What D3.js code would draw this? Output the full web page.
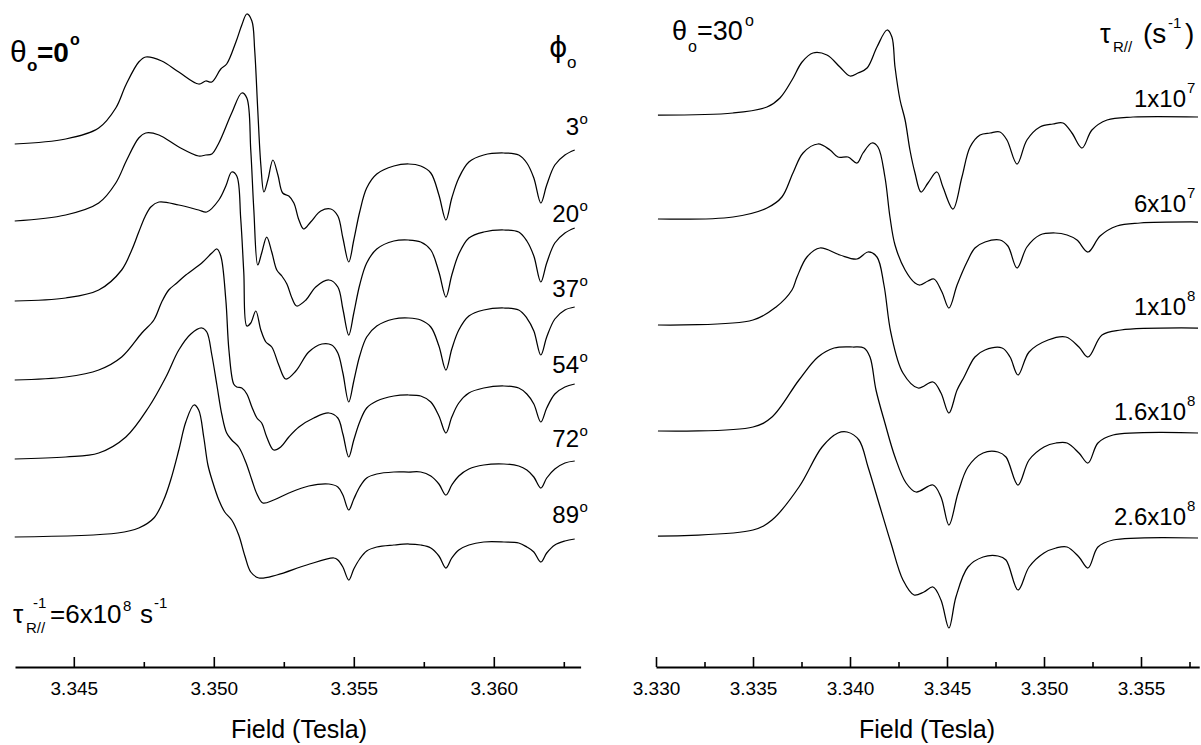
<!DOCTYPE html>
<html lang="en">
<head>
  <meta charset="UTF-8">
  <title>EPR spectra vs orientation and rotation rate</title>
  <script src="https://d3js.org/d3.v7.min.js"></script>
  <style>
    body { margin: 0; background: #fff; }
    svg { font-family: "Liberation Sans", Arial, Helvetica, sans-serif; fill: #000; }
    .trace { fill: none; stroke: #000; stroke-width: 1.25; stroke-linejoin: round; }
    .axis path.domain { stroke: #000; stroke-width: 2; }
    .axis line { stroke: #000; stroke-width: 1.6; }
    .axis text { font-size: 19px; font-family: "Liberation Sans", Arial, sans-serif; fill: #000; }
    .axis-title { font-size: 25px; text-anchor: middle; }
  </style>
</head>
<body>
  <div id="chart"></div>

  <script>
    // ---------- left panel: theta0 = 0 deg, six phi0 values ----------
    const leftLabels = ["3", "20", "37", "54", "72", "89"];
    const leftOffsets = [523, 446, 366, 287, 208, 130];   // stacking offset of each trace (a.u.)

    // high-field part shares one field grid
    const tailField = [3.35443, 3.35461, 3.35482, 3.35500, 3.35521, 3.35546, 3.35582, 3.35643, 3.35696,
      3.35739, 3.35775, 3.35804, 3.35829, 3.35850, 3.35875, 3.35911, 3.35964, 3.36036, 3.36089, 3.36118,
      3.36143, 3.36168, 3.36189, 3.36218, 3.36254, 3.36289];

    const phi3Field = [3.34289, 3.34471, 3.34589, 3.34650, 3.34686, 3.34732, 3.34757, 3.34814, 3.34875, 3.34946,
      3.34971, 3.34993, 3.35025, 3.35046, 3.35079, 3.35100, 3.35118, 3.35136, 3.35146, 3.35157,
      3.35168, 3.35179, 3.35193, 3.35211, 3.35229, 3.35246, 3.35268, 3.35286, 3.35304, 3.35321,
      3.35346, 3.35382, 3.35418];
    const phi3Head = [0, 5, 16, 36, 59, 82, 87, 83, 72, 60, 63, 62, 75, 80, 102, 119, 130, 123, 94, 34,
      -21, -48, -36, -16, -31, -49, -52, -59, -76, -85, -78, -67, -65];
    const phi3Tail = [-72, -94, -118, -96, -68, -44, -30, -22, -20, -22, -29, -51, -76, -54, -34, -18, -11, -9,
      -11, -19, -34, -59, -41, -21, -11, -6];

    const phi20Field = [3.34289, 3.34471, 3.34589, 3.34650, 3.34689, 3.34732, 3.34757, 3.34804, 3.34875, 3.34946,
      3.34971, 3.34993, 3.35018, 3.35064, 3.35100, 3.35118, 3.35132, 3.35143, 3.35157, 3.35171,
      3.35189, 3.35207, 3.35225, 3.35243, 3.35261, 3.35279, 3.35296, 3.35329, 3.35364, 3.35411];
    const phi20Head = [0, 6, 18, 38, 61, 83, 88, 86, 74, 65, 66, 67, 78, 108, 128, 123, 71, 11, -44, -32,
      -16, -31, -49, -55, -63, -77, -85, -79, -66, -59];
    const phi20Tail = [-66, -88, -114, -92, -64, -42, -28, -20, -19, -21, -29, -51, -76, -54, -33, -17, -11, -9,
      -11, -20, -35, -61, -42, -22, -12, -7];

    const phi37Field = [3.34289, 3.34471, 3.34589, 3.34671, 3.34707, 3.34732, 3.34754, 3.34775, 3.34804, 3.34875,
      3.34946, 3.34975, 3.35018, 3.35043, 3.35064, 3.35082, 3.35096, 3.35107, 3.35118, 3.35132,
      3.35150, 3.35168, 3.35186, 3.35207, 3.35232, 3.35257, 3.35293, 3.35339, 3.35386, 3.35421];
    const phi37Head = [0, 3, 11, 31, 51, 69, 84, 94, 99, 96, 91, 89, 101, 115, 129, 125, 83, 29, -25, -22,
      -10, -29, -41, -46, -64, -78, -70, -51, -43, -44];
    const phi37Tail = [-52, -72, -101, -80, -55, -36, -25, -18, -17, -19, -26, -45, -69, -48, -29, -15, -9, -7,
      -9, -17, -30, -54, -36, -18, -9, -6];

    const phi54Field = [3.34289, 3.34471, 3.34589, 3.34671, 3.34743, 3.34786, 3.34814, 3.34839, 3.34868, 3.34900,
      3.34957, 3.34993, 3.35011, 3.35025, 3.35043, 3.35054, 3.35071, 3.35082, 3.35100, 3.35118,
      3.35136, 3.35154, 3.35171, 3.35189, 3.35214, 3.35239, 3.35268, 3.35304, 3.35357, 3.35411];
    const phi54Head = [0, 3, 10, 23, 47, 60, 78, 90, 97, 105, 117, 127, 131, 124, 80, 30, -4, -7, -8, -14,
      -27, -38, -43, -57, -70, -67, -57, -47, -38, -33];
    const phi54Tail = [-38, -54, -77, -60, -42, -28, -21, -16, -15, -16, -22, -36, -53, -37, -23, -13, -8, -6,
      -8, -14, -24, -42, -28, -14, -7, -4];

    const phi72Field = [3.34289, 3.34471, 3.34589, 3.34686, 3.34768, 3.34829, 3.34875, 3.34918, 3.34957, 3.34975,
      3.34993, 3.35011, 3.35029, 3.35046, 3.35064, 3.35089, 3.35114, 3.35136, 3.35154, 3.35175,
      3.35214, 3.35268, 3.35339, 3.35411];
    const phi72Head = [0, 2, 6, 22, 52, 82, 109, 125, 131, 127, 104, 74, 44, 26, 19, 12, -3, -21, -35, -44,
      -41, -34, -27, -25];
    const phi72Tail = [-28, -36, -51, -40, -28, -19, -15, -13, -13, -13, -17, -25, -36, -26, -17, -10, -6, -5,
      -7, -11, -18, -29, -19, -10, -4, -2];

    const phi89Field = [3.34289, 3.34657, 3.34732, 3.34786, 3.34821, 3.34846, 3.34875, 3.34900, 3.34929, 3.34946,
      3.34964, 3.34979, 3.34996, 3.35018, 3.35039, 3.35064, 3.35089, 3.35111, 3.35132, 3.35161,
      3.35225, 3.35332, 3.35429];
    const phi89Head = [0, 4, 9, 19, 37, 57, 87, 115, 132, 127, 100, 72, 55, 37, 25, 17, 2, -19, -35, -41,
      -38, -28, -21];
    const phi89Tail = [-23, -30, -43, -32, -22, -14, -10, -8, -7, -8, -11, -19, -31, -21, -13, -8, -5, -5,
      -6, -10, -15, -25, -16, -8, -4, -2];

    const leftMajorTicks = [3.345, 3.350, 3.355, 3.360];
    const leftMinorTicks = [3.3475, 3.3525, 3.3575, 3.3625];

    // ---------- right panel: theta0 = 30 deg, five rotation rates ----------
    const rightLabels = ["1x10", "6x10", "1x10", "1.6x10", "2.6x10"];
    const rightExponents = ["7", "7", "8", "8", "8"];
    const rightOffsets = [552, 448, 342, 236, 131];

    const rate1Field = [3.33010, 3.33397, 3.33572, 3.33639, 3.33701, 3.33753, 3.33809, 3.33881, 3.33948, 3.34000,
      3.34041, 3.34088, 3.34139, 3.34191, 3.34216, 3.34232, 3.34258, 3.34284, 3.34309, 3.34335,
      3.34366, 3.34402, 3.34448, 3.34479, 3.34531, 3.34577, 3.34619, 3.34670, 3.34722, 3.34773,
      3.34809, 3.34861, 3.34912, 3.34979, 3.35046, 3.35098, 3.35144, 3.35196, 3.35247, 3.35325,
      3.35459, 3.35794];
    const rate1Value = [0, 2, 8, 17, 35, 53, 62, 60, 48, 39, 42, 47, 68, 85, 78, 48, 15, -5, -35, -58,
      -77, -68, -57, -72, -94, -62, -32, -20, -18, -17, -25, -49, -25, -12, -9, -8, -18, -33, -15, -5,
      -2, -2];

    const rate2Field = [3.33010, 3.33397, 3.33572, 3.33649, 3.33706, 3.33758, 3.33835, 3.33897, 3.33938, 3.33990,
      3.34036, 3.34067, 3.34113, 3.34144, 3.34180, 3.34206, 3.34232, 3.34284, 3.34335, 3.34361,
      3.34402, 3.34433, 3.34474, 3.34510, 3.34552, 3.34603, 3.34644, 3.34696, 3.34773, 3.34814,
      3.34861, 3.34912, 3.34979, 3.35057, 3.35119, 3.35170, 3.35227, 3.35289, 3.35376, 3.35495,
      3.35794];
    const rate2Value = [0, 2, 11, 22, 46, 66, 75, 69, 62, 62, 56, 66, 76, 72, 42, 2, -26, -51, -64, -66,
      -62, -60, -73, -89, -66, -43, -29, -23, -21, -27, -49, -28, -16, -14, -16, -21, -33, -17, -7, -4,
      -3];

    const rate3Field = [3.33010, 3.33500, 3.33619, 3.33701, 3.33727, 3.33778, 3.33845, 3.33948, 3.34036, 3.34093,
      3.34139, 3.34175, 3.34211, 3.34273, 3.34351, 3.34428, 3.34469, 3.34510, 3.34552, 3.34588,
      3.34644, 3.34696, 3.34784, 3.34825, 3.34866, 3.34923, 3.35021, 3.35113, 3.35180, 3.35227,
      3.35299, 3.35397, 3.35794];
    const rate3Value = [0, 5, 18, 35, 48, 68, 77, 70, 66, 73, 68, 40, -8, -48, -63, -57, -68, -88, -65, -52,
      -32, -25, -23, -32, -50, -27, -15, -12, -22, -32, -10, -5, -3];

    const rate4Field = [3.33010, 3.33500, 3.33598, 3.33737, 3.33835, 3.33918, 3.34015, 3.34072, 3.34103, 3.34134,
      3.34180, 3.34232, 3.34289, 3.34340, 3.34428, 3.34469, 3.34510, 3.34557, 3.34608, 3.34686,
      3.34763, 3.34804, 3.34866, 3.34923, 3.35000, 3.35062, 3.35119, 3.35180, 3.35227, 3.35278,
      3.35356, 3.35794];
    const rate4Value = [0, 4, 14, 51, 74, 83, 84, 83, 74, 41, 8, -26, -52, -61, -54, -66, -94, -62, -36, -22,
      -21, -26, -54, -29, -16, -12, -12, -22, -32, -12, -4, -2];

    const rate5Field = [3.33010, 3.33500, 3.33598, 3.33737, 3.33856, 3.33938, 3.33985, 3.34046, 3.34093, 3.34155,
      3.34211, 3.34273, 3.34330, 3.34381, 3.34428, 3.34469, 3.34510, 3.34546, 3.34608, 3.34686,
      3.34763, 3.34804, 3.34866, 3.34923, 3.35000, 3.35062, 3.35119, 3.35180, 3.35227, 3.35278,
      3.35356, 3.35794];
    const rate5Value = [0, 6, 16, 49, 89, 103, 104, 96, 69, 29, -7, -44, -59, -56, -51, -64, -92, -61, -31, -21,
      -20, -24, -54, -31, -17, -12, -11, -21, -32, -11, -4, -2];

    const rightMajorTicks = [3.330, 3.335, 3.340, 3.345, 3.350, 3.355];
    const rightMinorTicks = [3.3325, 3.3375, 3.3425, 3.3475, 3.3525, 3.3575];

    // ---------- build ----------
    const W = 1201, H = 745, axisY = 667;

    const svg = d3.select("#chart").append("svg")
      .attr("width", W).attr("height", H);

    const xLeft = d3.scaleLinear().domain([3.3429, 3.3631]).range([15, 580.6]);
    const xRight = d3.scaleLinear().domain([3.330, 3.358]).range([656, 1199.2]);
    const y = d3.scaleLinear().domain([0, axisY]).range([axisY, 0]);

    const leftTraces = [
      [phi3Field, phi3Head, phi3Tail], [phi20Field, phi20Head, phi20Tail], [phi37Field, phi37Head, phi37Tail],
      [phi54Field, phi54Head, phi54Tail], [phi72Field, phi72Head, phi72Tail], [phi89Field, phi89Head, phi89Tail]
    ].map(([f, h, t], i) => ({
      offset: leftOffsets[i],
      pts: f.concat(tailField).map((b, j) => [b, h.concat(t)[j]])
    }));

    const rightTraces = [
      [rate1Field, rate1Value], [rate2Field, rate2Value], [rate3Field, rate3Value],
      [rate4Field, rate4Value], [rate5Field, rate5Value]
    ].map(([f, v], i) => ({ offset: rightOffsets[i], pts: f.map((b, j) => [b, v[j]]) }));

    function drawTraces(data, x) {
      const line = d3.line()
        .x(d => x(d[0]))
        .y(d => d[1])
        .curve(d3.curveCatmullRom.alpha(0.5));
      svg.append("g").selectAll("path")
        .data(data)
        .join("path")
        .attr("class", "trace")
        .attr("d", t => line(t.pts.map(p => [p[0], y(t.offset + p[1])])));
    }
    drawTraces(leftTraces, xLeft);
    drawTraces(rightTraces, xRight);

    // axes: ticks point up, labels below
    function drawAxis(x, major, minor, center) {
      const g = svg.append("g").attr("class", "axis")
        .attr("transform", `translate(0,${axisY})`);
      g.call(d3.axisBottom(x).tickValues(major).tickSizeInner(-10).tickSizeOuter(0)
        .tickPadding(15).tickFormat(d3.format(".3f")));
      g.append("g").call(d3.axisBottom(x).tickValues(minor).tickSizeInner(-5).tickSizeOuter(0).tickFormat(""))
        .select(".domain").remove();
      svg.append("text").attr("class", "axis-title")
        .attr("x", center).attr("y", 738).text("Field (Tesla)");
    }
    drawAxis(xLeft, leftMajorTicks, leftMinorTicks, 299);
    drawAxis(xRight, rightMajorTicks, rightMinorTicks, 927);

    // text helper
    function txt(x, yy, s, size, opts = {}) {
      const t = svg.append("text").attr("x", x).attr("y", yy)
        .style("font-size", size + "px").text(s);
      if (opts.bold) t.style("font-weight", "bold");
      if (opts.anchor) t.attr("text-anchor", opts.anchor);
      if (opts.family) t.style("font-family", opts.family);
      return t;
    }

    // left panel labels
    txt(10, 62, "θ", 30);
    txt(27, 71, "o", 17, { bold: true });
    txt(37, 62, "=0", 28, { bold: true });
    txt(70, 45, "o", 16, { bold: true });

    txt(549, 57, "ϕ", 28, { family: "'DejaVu Sans', 'Liberation Sans', sans-serif" });
    txt(567, 68, "o", 17);

    const leftLabelY = [135, 222, 297, 373, 447, 523];
    leftLabels.forEach((s, i) => {
      txt(579, leftLabelY[i], s, 24, { anchor: "end" });
      txt(579.5, leftLabelY[i] - 11, "o", 15);
    });

    txt(13, 623, "τ", 26);
    txt(26, 633, "R//", 15);
    txt(33, 608, "-1", 15);
    txt(50, 623, "=6x10", 26);
    txt(123, 611, "8", 15);
    txt(140, 623, "s", 26);
    txt(154, 608, "-1", 15);

    // right panel labels
    txt(672, 40, "θ", 27);
    txt(688, 52, "o", 16);
    txt(697, 40, "=30", 27);
    txt(745, 26, "o", 16);

    txt(1100, 43, "τ", 27);
    txt(1113, 52, "R//", 15);
    txt(1143, 43, "(s", 28);
    txt(1168, 28, "-1", 15);
    txt(1185, 43, ")", 28);

    const rightLabelY = [107, 212, 315, 420, 525];
    rightLabels.forEach((s, i) => {
      txt(1186, rightLabelY[i], s, 24, { anchor: "end" });
      txt(1187, rightLabelY[i] - 14, rightExponents[i], 15);
    });
  </script>
</body>
</html>
